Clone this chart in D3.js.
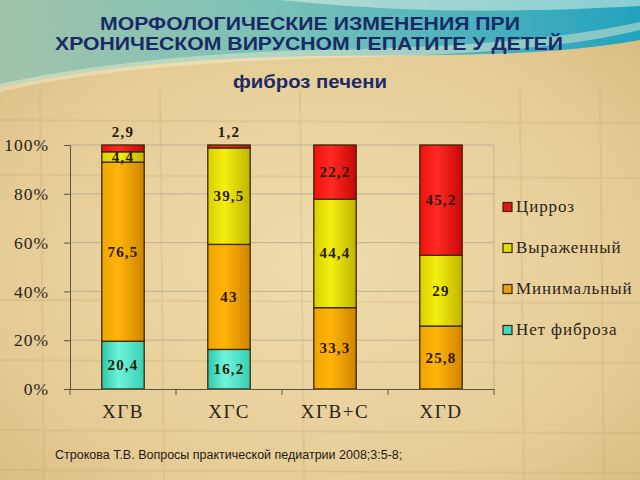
<!DOCTYPE html>
<html><head><meta charset="utf-8">
<script src="https://cdn.jsdelivr.net/npm/d3@7"></script>
<style>html,body{margin:0;padding:0;background:#e6cf9c;}svg{display:block;}</style>
</head><body>
<svg id="chart" width="640" height="480"></svg>
<script>
// ---- data ----
const categories = ["ХГВ", "ХГС", "ХГВ+С", "ХГD"];
const seriesNames = ["Нет фиброза", "Минимальный", "Выраженный", "Цирроз"];
const noFibrosis = [20.4, 16.2, 0, 0];
const minimal = [76.5, 43, 33.3, 25.8];
const expressed = [4.4, 39.5, 44.4, 29];
const cirrhosis = [2.9, 1.2, 22.2, 45.2];
const yTicks = [0, 0.2, 0.4, 0.6, 0.8, 1];
const titleLines = ["МОРФОЛОГИЧЕСКИЕ ИЗМЕНЕНИЯ ПРИ", "ХРОНИЧЕСКОМ ВИРУСНОМ ГЕПАТИТЕ У ДЕТЕЙ"];
const subtitle = "фиброз печени";
const citation = "Строкова Т.В. Вопросы практической педиатрии 2008;3:5-8;";

const seriesValues = [noFibrosis, minimal, expressed, cirrhosis];
const table = categories.map((c, i) => {
  const row = {cat: c};
  seriesNames.forEach((s, j) => row[s] = seriesValues[j][i]);
  return row;
});

const svg = d3.select("#chart");
const defs = svg.append("defs");

// background
const bg = defs.append("radialGradient").attr("id", "bg").attr("cx", "50%").attr("cy", "55%").attr("r", "70%");
bg.append("stop").attr("offset", "0%").attr("stop-color", "#efdcad");
bg.append("stop").attr("offset", "70%").attr("stop-color", "#e5cc96");
bg.append("stop").attr("offset", "100%").attr("stop-color", "#d8bb80");
svg.append("rect").attr("width", 640).attr("height", 480).attr("fill", "url(#bg)");

// faint parchment texture lines
const tex = svg.append("g").attr("opacity", 0.18).attr("stroke", "#b89a60");
[120, 175, 300, 360, 430, 470].forEach(y => tex.append("line").attr("x1", 0).attr("x2", 640).attr("y1", y).attr("y2", y + 3).attr("stroke-width", 2));
[40, 160, 300, 520, 600].forEach(x => tex.append("line").attr("x1", x).attr("x2", x + 4).attr("y1", 90).attr("y2", 480).attr("stroke-width", 2));

// top swoosh
const sw = defs.append("linearGradient").attr("id", "sw").attr("x1", "0%").attr("x2", "100%");
sw.append("stop").attr("offset", "0%").attr("stop-color", "#9cc4ae");
sw.append("stop").attr("offset", "45%").attr("stop-color", "#6cc0bc");
sw.append("stop").attr("offset", "100%").attr("stop-color", "#0fa0c6");
svg.append("path")
  .attr("d", "M0,0 H640 V40 C520,62 380,52 250,58 C150,62 60,74 0,88 Z")
  .attr("fill", "url(#sw)").attr("opacity", 0.9);
svg.append("path")
  .attr("d", "M280,0 C360,8 460,16 640,6 V0 Z")
  .attr("fill", "#dff0e6").attr("opacity", 0.55);
svg.append("path")
  .attr("d", "M0,84 C80,66 200,52 320,50 C440,48 560,40 640,22 V30 C560,50 440,56 320,58 C200,62 80,72 0,92 Z")
  .attr("fill", "#f6efcf").attr("opacity", 0.45);

// title (one text element, two lines)
const title = svg.append("g").attr("font-family", "'Liberation Sans', Arial, sans-serif")
  .attr("font-weight", "bold").attr("fill", "#1b2a66").attr("text-anchor", "middle");
const tt = title.append("text").attr("font-size", 18);
const titleWidths = [420, 508];
const titleX = [310, 309];
const titleY = [29.5, 50];
titleLines.forEach((t, i) => tt.append("tspan").attr("x", titleX[i]).attr("y", titleY[i])
  .attr("textLength", titleWidths[i]).attr("lengthAdjust", "spacingAndGlyphs").text(t));
title.append("text").attr("x", 310).attr("y", 88).attr("font-size", 18)
  .attr("textLength", 154).attr("lengthAdjust", "spacingAndGlyphs").text(subtitle);

// scales
const x = d3.scaleBand().domain(categories).range([70, 494]);
const y = d3.scaleLinear().domain([0, 1]).range([389, 145]);
const colors = {
  "Нет фиброза": ["#2cc8aa", "#6ff5dc", "#38cfb2"],
  "Минимальный": ["#f0a400", "#ffb40a", "#cf8400"],
  "Выраженный": ["#d8d000", "#f4ee10", "#c0b400"],
  "Цирроз": ["#f01010", "#ff2a22", "#c80808"]
};
const legendColors = {"Нет фиброза": "#40d8c0", "Минимальный": "#e8a010", "Выраженный": "#e0e000", "Цирроз": "#e81414"};
seriesNames.forEach((s, i) => {
  const g = defs.append("linearGradient").attr("id", "g" + i).attr("x1", "0%").attr("x2", "100%");
  g.append("stop").attr("offset", "0%").attr("stop-color", colors[s][0]);
  g.append("stop").attr("offset", "40%").attr("stop-color", colors[s][1]);
  g.append("stop").attr("offset", "100%").attr("stop-color", colors[s][2]);
});

// grid
const grid = svg.append("g");
grid.selectAll("line").data(yTicks.slice(1)).join("line")
  .attr("x1", 70).attr("x2", 494).attr("y1", d => y(d)).attr("y2", d => y(d))
  .attr("stroke", "#b8ab90").attr("stroke-width", 1).attr("opacity", 0.8);
svg.append("line").attr("x1", 494).attr("x2", 494).attr("y1", y(1)).attr("y2", y(0))
  .attr("stroke", "#b8ab90").attr("opacity", 0.8);

// stacked bars (100%)
const stack = d3.stack().keys(seriesNames).offset(d3.stackOffsetExpand);
const stacked = stack(table);
const bw = x.bandwidth() * 0.4;
const barG = svg.append("g");
stacked.forEach((layer, i) => {
  barG.append("g").selectAll("rect").data(layer.filter(d => d[1] - d[0] > 0)).join("rect")
    .attr("x", d => x(d.data.cat) + x.bandwidth() / 2 - bw / 2)
    .attr("y", d => y(d[1]))
    .attr("width", bw)
    .attr("height", d => y(d[0]) - y(d[1]))
    .attr("fill", "url(#g" + i + ")")
    .attr("stroke", "#3a2808").attr("stroke-width", 1.3);
});

// axes
const serif = "'Liberation Serif', 'Times New Roman', serif";
const yAxis = d3.axisLeft(y).tickValues(yTicks).tickFormat(d => Math.round(d * 100) + "%").tickSize(6).tickPadding(15);
const ya = svg.append("g").attr("transform", "translate(70,0)").call(yAxis);
ya.selectAll("text").attr("font-family", serif).attr("font-size", 17.5).attr("letter-spacing", 1).attr("fill", "#2a2418");
ya.selectAll("line").attr("stroke", "#5a5448");
ya.select(".domain").attr("stroke", "#5a5448");

const xAxis = d3.axisBottom(x).tickSize(0).tickPadding(16);
const xa = svg.append("g").attr("transform", "translate(0,389)").call(xAxis);
xa.selectAll("text").attr("font-family", serif).attr("font-size", 19).attr("letter-spacing", 1.5).attr("fill", "#2a2418");
xa.select(".domain").attr("stroke", "#5a5448");
xa.selectAll(".bnd").data(categories.concat([null])).join("line")
  .attr("x1", d => d ? x(d) : x.range()[1]).attr("x2", d => d ? x(d) : x.range()[1])
  .attr("y1", 0).attr("y2", 6).attr("stroke", "#5a5448");

// value labels
const labG = svg.append("g").attr("font-family", serif)
  .attr("font-weight", "bold").attr("font-size", 15).attr("letter-spacing", 1.2).attr("fill", "#2a1a06").attr("text-anchor", "middle");
const fmt = v => String(v).replace(".", ",");
stacked.forEach(layer => {
  layer.forEach((d, j) => {
    const v = table[j][layer.key];
    if (v <= 0) return;
    const small = (d[1] - d[0]) < 0.035;
    const cy = small ? y(1) - 8 : y((d[0] + d[1]) / 2) + 5;
    labG.append("text").attr("x", x(d.data.cat) + x.bandwidth() / 2).attr("y", cy).text(fmt(v));
  });
});

// legend
const leg = svg.append("g").attr("font-family", serif).attr("font-size", 17).attr("letter-spacing", 0.9).attr("fill", "#2a2418");
seriesNames.slice().reverse().forEach((s, i) => {
  const ly = 207 + i * 41;
  leg.append("rect").attr("x", 503).attr("y", ly - 4.5).attr("width", 9).attr("height", 9)
    .attr("fill", legendColors[s]).attr("stroke", "#3a2808").attr("stroke-width", 1.2);
  leg.append("text").attr("x", 516).attr("y", ly + 5).text(s);
});

// citation
svg.append("text").attr("x", 55).attr("y", 459).attr("font-family", "'Liberation Sans', Arial, sans-serif")
  .attr("font-size", 12.5).attr("fill", "#1e1a14").text(citation);
</script>
</body></html>
